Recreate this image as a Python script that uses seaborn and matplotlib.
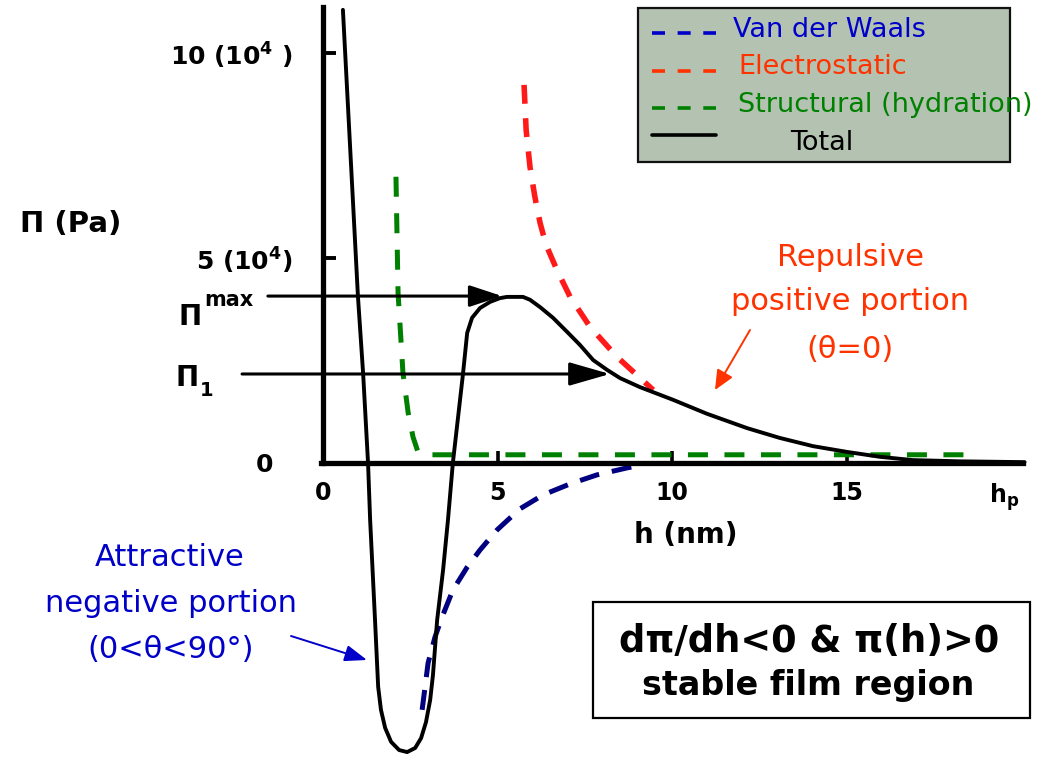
import matplotlib
matplotlib.use("Agg")
import matplotlib.pyplot as plt
import seaborn as sns
from matplotlib.patches import Rectangle
from matplotlib.lines import Line2D

# Disjoining pressure isotherm: film thickness h (nm) vs. pressure (units of 10^4 Pa)
total_h = [0.57, 1.00, 1.15, 1.29, 1.35, 1.49, 1.58, 1.66, 1.78, 1.95, 2.18, 2.41,
           2.64, 2.81, 2.95, 3.07, 3.15, 3.27, 3.44, 3.58, 3.72, 4.01, 4.13, 4.27,
           4.50, 4.79, 5.07, 5.27, 5.73, 5.93, 6.22, 6.59, 6.99, 7.36, 7.74, 8.14,
           8.51, 9.08, 10.03, 11.0, 12.15, 13.09, 14.04, 15.01, 15.96, 16.9, 18.25, 20.1]
total_pi = [11.05, 4.07, 2.17, 0.0, -1.39, -3.83, -5.46, -6.02, -6.46, -6.80, -7.00, -7.05,
            -6.95, -6.71, -6.32, -5.78, -5.17, -3.83, -2.61, -1.39, 0.0, 2.17, 3.17, 3.54,
            3.78, 3.93, 4.02, 4.05, 4.05, 3.98, 3.80, 3.54, 3.20, 2.88, 2.51, 2.27,
            2.07, 1.85, 1.54, 1.20, 0.85, 0.61, 0.41, 0.27, 0.15, 0.07, 0.04, 0.02]

vdw_h = [2.84, 3.01, 3.21, 3.41, 3.72, 4.13, 4.50, 4.99, 5.64, 6.30, 7.08, 7.85, 8.71, 9.03]
vdw_pi = [-6.02, -4.88, -4.24, -3.76, -3.10, -2.54, -2.12, -1.63, -1.12, -0.78, -0.51, -0.29, -0.12, -0.07]

elec_h = [5.76, 5.82, 5.93, 6.07, 6.22, 6.39, 6.70, 7.08, 7.65, 8.42, 9.46]
elec_pi = [9.22, 8.12, 7.22, 6.49, 5.85, 5.32, 4.71, 4.05, 3.32, 2.59, 1.78]

struct_h = [2.09, 2.15, 2.29, 2.44, 2.58, 2.72, 2.92, 18.54]
struct_pi = [6.98, 4.15, 2.20, 1.22, 0.63, 0.27, 0.20, 0.20]

PI_MAX = 4.07   # maximum of the repulsive barrier
PI_1 = 2.17     # an applied pressure below the barrier
PI_MAX_TIP_H = 5.13
PI_1_TIP_H = 8.22

x_ticks = [0, 5, 10, 15, 19.5]
x_tick_labels = ["0", "5", "10", "15", r"h$_{\mathbf{p}}$"]
y_ticks = [0, 5, 10]
y_tick_labels = ["0", r"5 (10$^{\mathbf{4}}$)", r"10 (10$^{\mathbf{4}}$ )"]

legend_labels = ["Van der Waals", "Electrostatic", "Structural (hydration)", "Total"]

NAVY = "#000080"
RED = "#ff1a1a"
GREEN = "#008000"
TXT_BLUE = "#0000c8"
TXT_RED = "#ff3300"

sns.set_theme(style="white", rc={"axes.facecolor": "white", "figure.facecolor": "white"})
plt.rcParams["font.family"] = ["DejaVu Sans"]
plt.rcParams["mathtext.fontset"] = "dejavusans"
plt.rcParams["text.color"] = "black"

W, H = 1042, 757
fig = plt.figure(figsize=(W / 100, H / 100), dpi=100)
ax = fig.add_axes([0, 0, 1, 1])
ax.set_xlim(-9.255, 20.60)
ax.set_ylim(-7.17, 11.29)


def fp(x, y):
    """Figure-fraction position from pixel offsets taken from the top-left corner."""
    return (x / W, 1 - y / H)


def draw(h, p, color, lw, dashes=None, z=3):
    sns.lineplot(x=h, y=p, ax=ax, color=color, linewidth=lw, sort=False,
                 estimator=None, legend=False, zorder=z)
    line = ax.lines[-1]
    if dashes is not None:
        line.set_dashes(dashes)
        line.set_dash_capstyle("butt")
    else:
        line.set_solid_capstyle("round")
        line.set_solid_joinstyle("round")
    return line


draw(struct_h, struct_pi, GREEN, 3.6, dashes=(4.0, 3.3), z=2)
draw(vdw_h, vdw_pi, NAVY, 3.6, dashes=(4.0, 2.6), z=2)
draw(elec_h, elec_pi, RED, 4.0, dashes=(3.4, 2.6), z=2)
draw(total_h, total_pi, "black", 2.8, z=4)

# axes through the origin
for side in ("top", "right"):
    ax.spines[side].set_visible(False)
ax.spines["left"].set_position(("data", 0))
ax.spines["bottom"].set_position(("data", 0))
ax.spines["left"].set_bounds(0, 11.12)
ax.spines["bottom"].set_bounds(-0.05, 20.06)
for side in ("left", "bottom"):
    ax.spines[side].set_color("black")
    ax.spines[side].set_linewidth(3.8)
    ax.spines[side].set_zorder(5)

ax.set_xticks(x_ticks, x_tick_labels)
ax.set_yticks(y_ticks, y_tick_labels)
ax.tick_params(axis="x", direction="in", length=9, width=2.6, color="black",
               pad=13, labelsize=17, bottom=True)
ax.tick_params(axis="y", direction="in", length=9.5, width=2.8, color="black",
               pad=22, labelsize=18, left=True)
for lab in ax.get_xticklabels() + ax.get_yticklabels():
    lab.set_fontweight("bold")
    lab.set_color("black")
xt = ax.xaxis.get_major_ticks()
xt[0].tick1line.set_visible(False)
xt[-1].tick1line.set_visible(False)
yt = ax.yaxis.get_major_ticks()
yt[0].tick1line.set_visible(False)
yt[0].set_pad(36)

ax.set_xlabel("h (nm)", fontsize=20, fontweight="bold", color="black", va="center")
ax.xaxis.set_label_coords(686 / W, 1 - 535 / H)
ax.set_ylabel("Π (Pa)", fontsize=21, fontweight="bold", color="black",
              rotation=0, ha="center", va="center")
ax.yaxis.set_label_coords(71 / W, 1 - 224 / H)

# pressure levels with arrows to the isotherm
ax.annotate("", xy=(PI_MAX_TIP_H, PI_MAX), xytext=(-1.58, PI_MAX),
            arrowprops=dict(arrowstyle="-|>,head_length=1.0,head_width=0.33",
                            mutation_scale=20, color="black", lw=2.2,
                            shrinkA=0, shrinkB=0), zorder=6)
ax.annotate("", xy=(PI_1_TIP_H, PI_1), xytext=(-2.32, PI_1),
            arrowprops=dict(arrowstyle="-|>,head_length=1.25,head_width=0.36",
                            mutation_scale=20, color="black", lw=2.2,
                            shrinkA=0, shrinkB=0), zorder=6)
fig.text(*fp(190, 317), "Π", fontsize=20, fontweight="bold", color="black", ha="center", va="center")
fig.text(*fp(229, 300), "max", fontsize=15, fontweight="bold", color="black", ha="center", va="center")
fig.text(*fp(187, 378), "Π", fontsize=20, fontweight="bold", color="black", ha="center", va="center")
fig.text(*fp(207, 391), "1", fontsize=14, fontweight="bold", color="black", ha="center", va="center")

# legend panel
bx0, by0 = fp(638, 162)
fig.patches.append(Rectangle((bx0, by0), (1010 - 638) / W, (162 - 8) / H,
                             transform=fig.transFigure, facecolor="#b3c2b1",
                             edgecolor="#111111", linewidth=1.6, zorder=7))
sample_colors = [TXT_BLUE, TXT_RED, GREEN, "black"]
sample_rows = [33, 71, 108, 135]
text_pos = [(733, 30), (738, 67), (738, 105), (790, 143)]
for lab, col, ry, (tx, ty) in zip(legend_labels, sample_colors, sample_rows, text_pos):
    x0, y0 = fp(652, ry)
    x1, _ = fp(716, ry)
    ln = Line2D([x0, x1], [y0, y0], transform=fig.transFigure, color=col,
                linewidth=2.6, zorder=8)
    if lab != "Total":
        ln.set_dashes((3.6, 3.5))
        ln.set_dash_capstyle("butt")
    fig.lines.append(ln)
    fig.text(*fp(tx, ty), lab, fontsize=19.5, color=col, ha="left", va="center", zorder=9)

# annotations
fig.text(*fp(851, 258), "Repulsive", fontsize=22, color=TXT_RED, ha="center", va="center")
fig.text(*fp(850, 302), "positive portion", fontsize=22, color=TXT_RED, ha="center", va="center")
fig.text(*fp(850, 349), "(θ=0)", fontsize=22, color=TXT_RED, ha="center", va="center")
ax.annotate("", xy=fp(715, 390), xytext=fp(750, 330), xycoords="figure fraction",
            textcoords="figure fraction",
            arrowprops=dict(arrowstyle="-|>,head_length=0.6,head_width=0.27",
                            mutation_scale=20, color=TXT_RED, lw=1.4,
                            shrinkA=0, shrinkB=0))

fig.text(*fp(170, 558), "Attractive", fontsize=22, color=TXT_BLUE, ha="center", va="center")
fig.text(*fp(171, 603), "negative portion", fontsize=22, color=TXT_BLUE, ha="center", va="center")
fig.text(*fp(171, 650), "(0<θ<90°)", fontsize=22, color=TXT_BLUE, ha="center", va="center")
ax.annotate("", xy=fp(367, 660), xytext=fp(291, 636), xycoords="figure fraction",
            textcoords="figure fraction",
            arrowprops=dict(arrowstyle="-|>,head_length=0.68,head_width=0.25",
                            mutation_scale=20, color=TXT_BLUE, lw=1.4,
                            shrinkA=0, shrinkB=0))

# stability criterion box
rx0, ry0 = fp(593, 718)
fig.patches.append(Rectangle((rx0, ry0), (1030 - 593) / W, (718 - 602) / H,
                             transform=fig.transFigure, facecolor="white",
                             edgecolor="black", linewidth=1.6, zorder=7))
fig.text(*fp(809, 641), "dπ/dh<0 & π(h)>0", fontsize=26.5, fontweight="bold",
         color="black", ha="center", va="center", zorder=9)
fig.text(*fp(808, 685), "stable film region", fontsize=24, fontweight="bold",
         color="black", ha="center", va="center", zorder=9)

fig.savefig("out.png", dpi=100, facecolor="white")
